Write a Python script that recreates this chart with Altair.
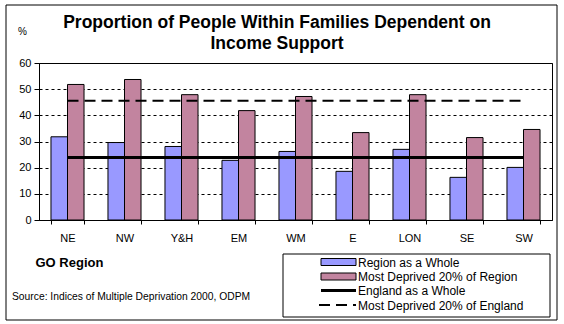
import altair as alt
import pandas as pd

# ---------------- data ----------------
regions = ["NE", "NW", "Y&H", "EM", "WM", "E", "LON", "SE", "SW"]
region_whole = [31.8, 29.6, 28.1, 22.8, 26.2, 18.6, 27.0, 16.3, 20.1]
most_deprived_region = [51.8, 53.7, 47.9, 41.8, 47.2, 33.4, 47.9, 31.5, 34.6]
england_whole = 23.9
most_deprived_england = 45.6
series_names = [
    "Region as a Whole",
    "Most Deprived 20% of Region",
    "England as a Whole",
    "Most Deprived 20% of England",
]
y_ticks = [0, 10, 20, 30, 40, 50, 60]
title_lines = ["Proportion of People Within Families Dependent on", "Income Support"]
source_text = "Source: Indices of Multiple Deprivation 2000, ODPM"

bars_df = pd.DataFrame({
    "region": regions * 2,
    "series": [series_names[0]] * len(regions) + [series_names[1]] * len(regions),
    "value": region_whole + most_deprived_region,
})
lines_df = pd.DataFrame({
    "region": regions * 2,
    "series": [series_names[2]] * len(regions) + [series_names[3]] * len(regions),
    "value": [england_whole] * len(regions) + [most_deprived_england] * len(regions),
})

FONT = "Liberation Sans"
BLUE = "#9999FF"
PINK = "#C2849F"
W, H = 513, 157
PAD_L, PAD_T = 39, 63

x_scale = alt.Scale(domain=regions, paddingInner=0.42, paddingOuter=0.21)
y_scale = alt.Scale(domain=[0, 60], nice=False)

x_axis = alt.Axis(
    title="GO Region", labelAngle=0, tickBand="extent", grid=False,
    domainColor="black", tickColor="black", tickSize=4, labelPadding=8,
    labelFont=FONT, labelFontSize=11, labelColor="black",
    titleFont=FONT, titleFontSize=13, titleFontWeight="bold", titleColor="black",
    titleX=-4, titleY=46, titleAlign="left", titleBaseline="alphabetic", titleAngle=0,
)
y_axis = alt.Axis(
    title="%", values=y_ticks, grid=True, gridColor="black", gridDash=[3, 3], gridWidth=1,
    domainColor="black", tickColor="black", tickSize=5, labelPadding=3,
    labelFont=FONT, labelFontSize=11, labelColor="black",
    titleFont=FONT, titleFontSize=10, titleFontWeight="normal", titleColor="black",
    titleAngle=0, titleX=-17, titleY=-29, titleAlign="center", titleBaseline="alphabetic",
)

x_enc = alt.X("region:N", scale=x_scale, sort=regions, axis=x_axis)
y_enc = alt.Y("value:Q", scale=y_scale, axis=y_axis)

bars = alt.Chart(bars_df).mark_bar(stroke="black", strokeWidth=1).encode(
    x=x_enc,
    xOffset=alt.XOffset("series:N", sort=series_names[:2],
                        scale=alt.Scale(domain=series_names[:2], paddingInner=0, paddingOuter=0)),
    y=y_enc,
    fill=alt.Fill("series:N", scale=alt.Scale(domain=series_names[:2], range=[BLUE, PINK]), legend=None),
)

eng_line = alt.Chart(lines_df).transform_filter(
    alt.datum.series == series_names[2]
).mark_line(color="black", strokeWidth=3).encode(x=x_enc, y=y_enc)

dep_line = alt.Chart(lines_df).transform_filter(
    alt.datum.series == series_names[3]
).mark_line(color="black", strokeWidth=2, strokeDash=[11, 6]).encode(x=x_enc, y=y_enc)


def text_at(text, x, y, size, weight="normal", align="left"):
    return alt.Chart(pd.DataFrame({"t": [text]})).mark_text(
        align=align, baseline="alphabetic", font=FONT, fontSize=size,
        fontWeight=weight, color="black",
    ).encode(x=alt.value(x), y=alt.value(y), text="t:N")


one = pd.DataFrame({"k": [0]})

# outer frame
frame = alt.Chart(one).mark_rect(fill="white", fillOpacity=0, stroke="black", strokeWidth=1).encode(
    x=alt.value(6 - PAD_L), x2=alt.value(557 - PAD_L),
    y=alt.value(5 - PAD_T), y2=alt.value(320 - PAD_T),
)

title1 = text_at(title_lines[0], 277 - PAD_L, 28 - PAD_T, 17.5, "bold", "center")
title2 = text_at(title_lines[1], 277 - PAD_L, 49 - PAD_T, 17.5, "bold", "center")
source = text_at(source_text, 12 - PAD_L, 300 - PAD_T, 10.3)

# manual legend
lg_box = alt.Chart(one).mark_rect(fill="white", stroke="black", strokeWidth=1).encode(
    x=alt.value(283 - PAD_L), x2=alt.value(550 - PAD_L),
    y=alt.value(254 - PAD_T), y2=alt.value(317 - PAD_T),
)
row_y = [262, 276.5, 290.5, 305]
sx0, sx1, tx = 321 - PAD_L, 356 - PAD_L, 358 - PAD_L
sym1 = alt.Chart(one).mark_rect(fill=BLUE, stroke="black", strokeWidth=1).encode(
    x=alt.value(sx0), x2=alt.value(sx1), y=alt.value(row_y[0] - 3.5 - PAD_T), y2=alt.value(row_y[0] + 3.5 - PAD_T))
sym2 = alt.Chart(one).mark_rect(fill=PINK, stroke="black", strokeWidth=1).encode(
    x=alt.value(sx0), x2=alt.value(sx1), y=alt.value(row_y[1] - 3.5 - PAD_T), y2=alt.value(row_y[1] + 3.5 - PAD_T))
sym3 = alt.Chart(one).mark_rule(color="black", strokeWidth=3).encode(
    x=alt.value(sx0), x2=alt.value(sx1), y=alt.value(row_y[2] - PAD_T))
sym4 = alt.Chart(one).mark_rule(color="black", strokeWidth=2, strokeDash=[11, 6]).encode(
    x=alt.value(sx0 - 2), x2=alt.value(sx1), y=alt.value(row_y[3] - PAD_T))
lg_texts = [text_at(series_names[i], tx, row_y[i] + 4.5 - PAD_T, 12) for i in range(4)]

chart = alt.layer(
    frame, bars, eng_line, dep_line, title1, title2, source,
    lg_box, sym1, sym2, sym3, sym4, *lg_texts,
).properties(
    width=W, height=H,
    autosize=alt.AutoSizeParams(type="none"),
    padding={"left": PAD_L, "top": PAD_T, "right": 564 - PAD_L - W, "bottom": 324 - PAD_T - H},
    background="white",
).configure_view(stroke="black", strokeWidth=1)

chart.save("out.html", embed_options={"renderer": "svg", "actions": False})
